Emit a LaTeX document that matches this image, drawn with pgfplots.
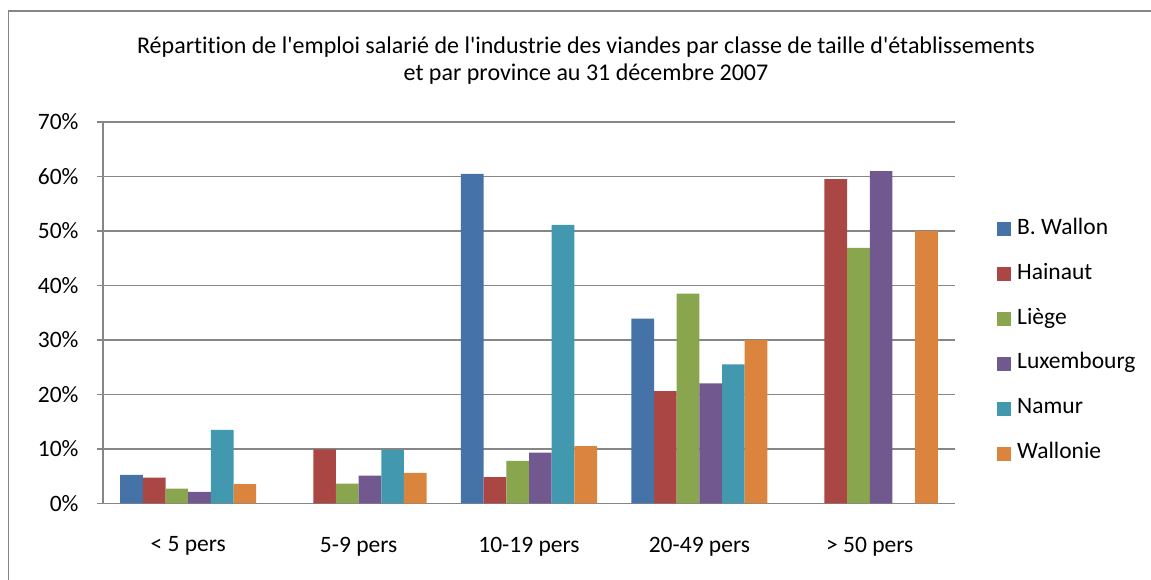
\documentclass[border=0pt]{standalone}
\usepackage{pgfplots}
\pgfplotsset{compat=1.18}
\usepackage{fontspec}
\setmainfont{Carlito}[Ligatures={NoCommon,TeXOff}]
\definecolor{cBW}{HTML}{4572A7}
\definecolor{cHA}{HTML}{AA4643}
\definecolor{cLI}{HTML}{89A54E}
\definecolor{cLU}{HTML}{71588F}
\definecolor{cNA}{HTML}{4198AF}
\definecolor{cWA}{HTML}{DB843D}
\definecolor{gridc}{HTML}{868686}
\newcommand{\chfont}{\fontsize{23.5}{27}\selectfont}
\newcommand{\titlefont}{\fontsize{24}{27}\selectfont}
\begin{document}
\begin{tikzpicture}
\path[use as bounding box] (0pt,0pt) rectangle (1151pt,-580pt);
\draw[gridc, line width=1.5pt] (8.5pt,-600pt) -- (8.5pt,-11pt) -- (1170pt,-11pt);
\node[align=center, font=\titlefont, text=black] at (586pt,-61pt)
  {Répartition de l'emploi salarié de l'industrie des viandes par classe de taille d'établissements\\et par province au 31 décembre 2007};
\begin{axis}[
  at={(103pt,-503.3pt)}, anchor=south west,
  scale only axis, width=852pt, height=381.3pt,
  xmin=-0.5, xmax=4.5, ymin=0, ymax=70,
  ybar=0pt, bar width=22.67pt,
  axis lines*=left,
  axis line style={gridc, line width=1.5pt},
  ymajorgrids, grid style={gridc, line width=1.5pt},
  ytick={0,10,...,70},
  yticklabels={0\%,10\%,20\%,30\%,40\%,50\%,60\%,70\%},
  xtick={0,1,2,3,4},
  xticklabels={< 5 pers,5-9 pers,10-19 pers,20-49 pers,> 50 pers},
  x tick style={draw=none},
  extra x ticks={-0.5,0.5,1.5,2.5,3.5,4.5},
  extra x tick labels={},
  extra x tick style={tick style={draw=gridc, line width=1.5pt}, major tick length=7pt, tick align=outside},
  y tick style={draw=gridc, line width=1.5pt},
  tick align=outside, major tick length=6pt,
  tick pos=left,
  ticklabel style={font=\chfont, text=black},
  xticklabel style={yshift=-24pt},
  yticklabel style={xshift=-15pt},
  /pgf/number format/assume math mode=true,
  legend image code/.code={\fill[#1,draw=none] (0pt,-7pt) rectangle (14pt,7pt);},
  legend style={draw=none, fill=none, at={(1.0493,0.743)}, anchor=north west,
    inner sep=0pt, row sep=26.9pt, font=\chfont,
    nodes={text height=14pt, text depth=4pt, inner ysep=0pt, inner xsep=6pt}},
  legend cell align=left,
]
\addplot[fill=cBW, draw=none] coordinates {(0,5.2) (2,60.5) (3,33.9)};
\addplot[fill=cHA, draw=none] coordinates {(0,4.7) (1,9.9) (2,4.8) (3,20.6) (4,59.5)};
\addplot[fill=cLI, draw=none] coordinates {(0,2.7) (1,3.6) (2,7.8) (3,38.5) (4,46.9)};
\addplot[fill=cLU, draw=none] coordinates {(0,2.1) (1,5.1) (2,9.3) (3,22.0) (4,61.0)};
\addplot[fill=cNA, draw=none] coordinates {(0,13.5) (1,9.8) (2,51.1) (3,25.5)};
\addplot[fill=cWA, draw=none] coordinates {(0,3.5) (1,5.6) (2,10.5) (3,30.0) (4,50.0)};
\legend{B. Wallon,Hainaut,Liège,Luxembourg,Namur,Wallonie}
\end{axis}
\end{tikzpicture}
\end{document}
